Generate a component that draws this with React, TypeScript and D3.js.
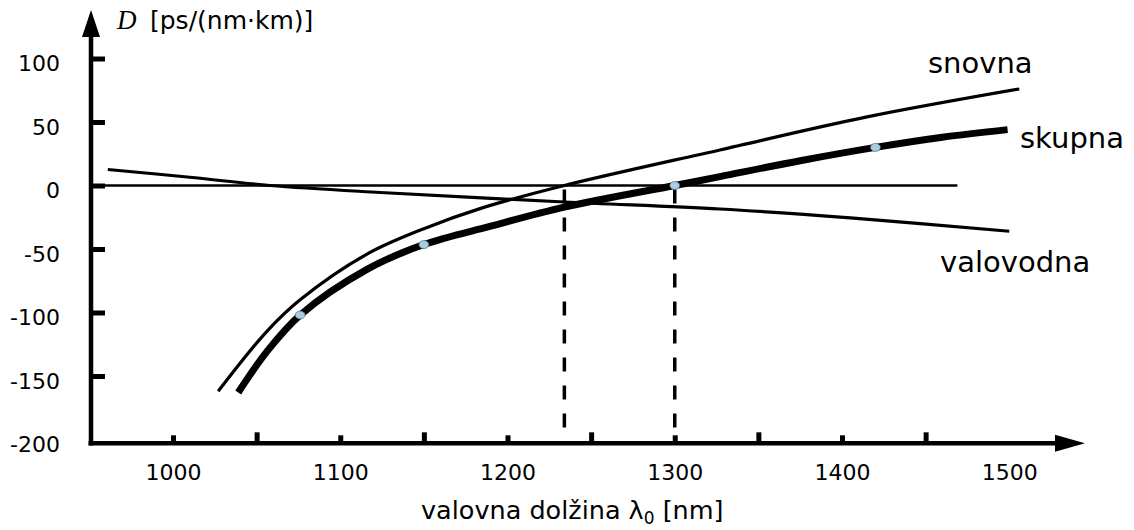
import React, { useEffect, useRef } from 'react'
import { select, scaleLinear, line, curveCatmullRom, axisBottom, axisLeft } from 'd3'

// tick values
const xMajorTicks = [1000, 1100, 1200, 1300, 1400, 1500]
const xMinorTicks = [1050, 1150, 1250, 1350, 1450]
const yTicks = [100, 50, 0, -50, -100, -150, -200]

// curves: [wavelength nm, D ps/(nm·km)]
const snovna: [number, number][] = [
  [1027, -162], [1056, -115], [1076, -90], [1116, -54], [1150, -34],
  [1184, -18], [1234, 0], [1327, 28], [1415, 54], [1506, 76],
]
const skupna: [number, number][] = [
  [1039, -163], [1056, -131], [1076, -102], [1116, -66], [1150, -46.5],
  [1190, -32], [1234, -17], [1300, 0], [1327, 7], [1375, 19.5],
  [1420, 30], [1460, 38], [1499, 44],
]
const valovodna: [number, number][] = [
  [961, 12.6], [1010, 6.5], [1058, 0], [1124, -5.5], [1234, -13],
  [1327, -18.5], [1405, -25.5], [1500, -36],
]
const markers: [number, number][] = [[1076, -102], [1150, -46.5], [1300, 0], [1420, 30]]
const zeroCrossings = [1234, 1300]
const zeroLineEnd = 1469

const sans = 'DejaVu Sans'

function App() {
  const ref = useRef<SVGSVGElement>(null)

  useEffect(() => {
    const svg = select(ref.current)
    svg.selectAll('*').remove()

    const x = scaleLinear().domain([1000, 1400]).range([173, 842])
    const y = scaleLinear().domain([100, -150]).range([58.5, 376])
    const axisX = 91
    const axisY = y(-203)

    // zero line
    svg.append('line')
      .attr('x1', axisX).attr('x2', x(zeroLineEnd))
      .attr('y1', y(0)).attr('y2', y(0))
      .attr('stroke', 'black').attr('stroke-width', 2.5)

    // dashed drop lines
    svg.selectAll('line.drop')
      .data(zeroCrossings)
      .join('line')
      .attr('class', 'drop')
      .attr('x1', d => x(d)).attr('x2', d => x(d))
      .attr('y1', y(0) + 4).attr('y2', axisY - 3)
      .attr('stroke', 'black').attr('stroke-width', 3.5)
      .attr('stroke-dasharray', '14 14')

    const gen = line<[number, number]>()
      .x(d => x(d[0]))
      .y(d => y(d[1]))
      .curve(curveCatmullRom.alpha(0.5))

    svg.append('path').datum(valovodna).attr('d', gen)
      .attr('fill', 'none').attr('stroke', 'black').attr('stroke-width', 3.2)
    svg.append('path').datum(snovna).attr('d', gen)
      .attr('fill', 'none').attr('stroke', 'black').attr('stroke-width', 3.2)
    svg.append('path').datum(skupna).attr('d', gen)
      .attr('fill', 'none').attr('stroke', 'black').attr('stroke-width', 7)

    svg.selectAll('ellipse')
      .data(markers)
      .join('ellipse')
      .attr('cx', d => x(d[0])).attr('cy', d => y(d[1]))
      .attr('rx', 5).attr('ry', 4)
      .attr('fill', '#a9cde0').attr('stroke', '#3a5a6a').attr('stroke-width', 0.6)

    // x axis
    const gx = svg.append('g').attr('transform', `translate(0,${axisY})`)
    gx.call(axisBottom(x).tickValues(xMajorTicks).tickSizeInner(-8).tickSizeOuter(0).tickPadding(21).tickFormat(d => String(d)))
    gx.call(g => g.select('.domain').remove())
    gx.selectAll('line').attr('stroke-width', 5)
    gx.selectAll('text').attr('font-family', sans).attr('font-size', 22).attr('fill', 'black')
    gx.selectAll('.tick').filter((d: any) => d === 1500).select('line').remove()

    const gx2 = svg.append('g').attr('transform', `translate(0,${axisY})`)
    gx2.call(axisBottom(x).tickValues(xMinorTicks).tickSizeInner(-11).tickSizeOuter(0).tickFormat(() => ''))
    gx2.call(g => g.select('.domain').remove())
    gx2.selectAll('line').attr('stroke-width', 5)

    // y axis
    const gy = svg.append('g').attr('transform', `translate(${axisX},0)`)
    gy.call(axisLeft(y).tickValues(yTicks).tickSizeInner(-14).tickSizeOuter(0).tickPadding(31).tickFormat(d => String(d)))
    gy.call(g => g.select('.domain').remove())
    gy.selectAll('line').attr('stroke-width', 5)
    gy.selectAll('.tick').filter((d: any) => d === -200).select('line').remove()
    gy.selectAll('text').attr('font-family', sans).attr('font-size', 22).attr('fill', 'black').attr('dy', '0.55em')

    // axis lines with arrows
    svg.append('line')
      .attr('x1', axisX - 2.5).attr('x2', 1058)
      .attr('y1', axisY).attr('y2', axisY)
      .attr('stroke', 'black').attr('stroke-width', 4.5)
    svg.append('path')
      .attr('d', `M1055,${axisY - 8.5} L1085,${axisY} L1055,${axisY + 8.5} Z`)
      .attr('fill', 'black')
    svg.append('line')
      .attr('x1', axisX).attr('x2', axisX)
      .attr('y1', axisY + 2.2).attr('y2', 35)
      .attr('stroke', 'black').attr('stroke-width', 4.5)
    svg.append('path')
      .attr('d', `M${axisX - 9},37 L${axisX},10 L${axisX + 9},37 Z`)
      .attr('fill', 'black')

    // titles
    const xt = svg.append('text')
      .attr('x', 421).attr('y', 519)
      .attr('font-family', sans).attr('font-size', 25.5)
    xt.append('tspan').text('valovna dolžina λ')
    xt.append('tspan').attr('font-size', 17).attr('dy', 5).text('0')
    xt.append('tspan').attr('dy', -5).text(' [nm]')

    svg.append('text')
      .attr('x', 117).attr('y', 29)
      .attr('font-family', 'Liberation Serif').attr('font-style', 'italic').attr('font-size', 27)
      .text('D')
    svg.append('text')
      .attr('x', 150).attr('y', 29)
      .attr('font-family', sans).attr('font-size', 25)
      .text('[ps/(nm·km)]')

    // curve labels
    const labels: [string, number, number][] = [['snovna', 928, 73], ['skupna', 1020, 148], ['valovodna', 940, 272]]
    svg.selectAll('text.lbl')
      .data(labels)
      .join('text')
      .attr('class', 'lbl')
      .attr('x', d => d[1]).attr('y', d => d[2])
      .attr('font-family', sans).attr('font-size', 29)
      .text(d => d[0])
  }, [])

  return (
    <svg ref={ref} width={1134} height={530}
      style={{ position: 'absolute', left: 0, top: 0, background: 'white' }} />
  )
}

export default App
